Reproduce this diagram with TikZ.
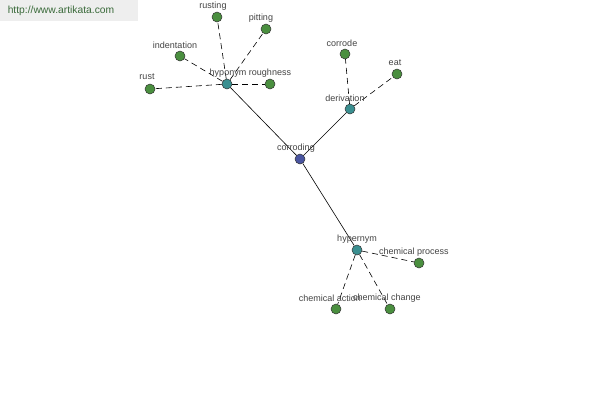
\documentclass[tikz,border=0pt]{standalone}
\usepackage{fontspec}
\setmainfont{Liberation Sans}
\definecolor{leafc}{HTML}{4A8F3F}
\definecolor{hubc}{HTML}{3A8F90}
\definecolor{rootc}{HTML}{4A55A0}
\definecolor{txtc}{HTML}{444444}
\definecolor{wmbg}{HTML}{EEEEEE}
\definecolor{wmtx}{HTML}{3A6A3A}
\tikzset{
  vtx/.style={circle,draw=black!80,line width=0.5pt,minimum size=10pt,inner sep=0pt},
  leaf/.style={vtx,fill=leafc},
  hub/.style={vtx,fill=hubc},
  root/.style={vtx,fill=rootc},
  lbl/.style={font=\fontsize{9}{10}\selectfont,text=txtc,inner sep=0pt},
  dedge/.style={dash pattern=on 6pt off 4pt,line width=0.6pt},
  sedge/.style={line width=0.6pt},
}
\begin{document}
\begin{tikzpicture}[x=1pt,y=-1pt]
\useasboundingbox (0,0) rectangle (600,400);
\fill[white] (0,0) rectangle (600,400);
\fill[wmbg] (0,0) rectangle (138,21);
\node[font=\fontsize{10.3}{11}\selectfont,text=wmtx,inner sep=0pt] (wm) at (61,11) {http://www.artikata.com};
% nodes
\node[root] (corroding) at (300,159) {};
\node[hub] (hyponym) at (227,84) {};
\node[hub] (derivation) at (350,109) {};
\node[hub] (hypernym) at (357,250) {};
\node[leaf] (roughness) at (270,84) {};
\node[leaf] (rust) at (150,89) {};
\node[leaf] (indentation) at (180,56) {};
\node[leaf] (rusting) at (217,17) {};
\node[leaf] (pitting) at (266,29) {};
\node[leaf] (corrode) at (345,54) {};
\node[leaf] (eat) at (397,74) {};
\node[leaf] (chemprocess) at (419,263) {};
\node[leaf] (chemaction) at (336,309) {};
\node[leaf] (chemchange) at (390,309) {};
% edges
\draw[sedge] (corroding) -- (hyponym);
\draw[sedge] (corroding) -- (derivation);
\draw[sedge] (corroding) -- (hypernym);
\draw[dedge] (hyponym) -- (roughness);
\draw[dedge] (hyponym) -- (rust);
\draw[dedge] (hyponym) -- (indentation);
\draw[dedge] (hyponym) -- (rusting);
\draw[dedge] (hyponym) -- (pitting);
\draw[dedge] (derivation) -- (corrode);
\draw[dedge] (derivation) -- (eat);
\draw[dedge] (hypernym) -- (chemprocess);
\draw[dedge] (hypernym) -- (chemaction);
\draw[dedge] (hypernym) -- (chemchange);
% labels
\node[lbl] (lcorroding) at (296,148) {corroding};
\node[lbl] (lhyponym) at (228,73) {hyponym};
\node[lbl] (lderivation) at (345,98) {derivation};
\node[lbl] (lhypernym) at (357,239) {hypernym};
\node[lbl] (lroughness) at (270,73) {roughness};
\node[lbl] (lrust) at (147,77) {rust};
\node[lbl] (lindentation) at (175,45) {indentation};
\node[lbl] (lrusting) at (213,6) {rusting};
\node[lbl] (lpitting) at (261,18) {pitting};
\node[lbl] (lcorrode) at (342,43) {corrode};
\node[lbl] (leat) at (395,63) {eat};
\node[lbl] (lchemprocess) at (414,252) {chemical process};
\node[lbl] (lchemaction) at (330,298) {chemical action};
\node[lbl] (lchemchange) at (387,298) {chemical change};
\end{tikzpicture}
\end{document}
